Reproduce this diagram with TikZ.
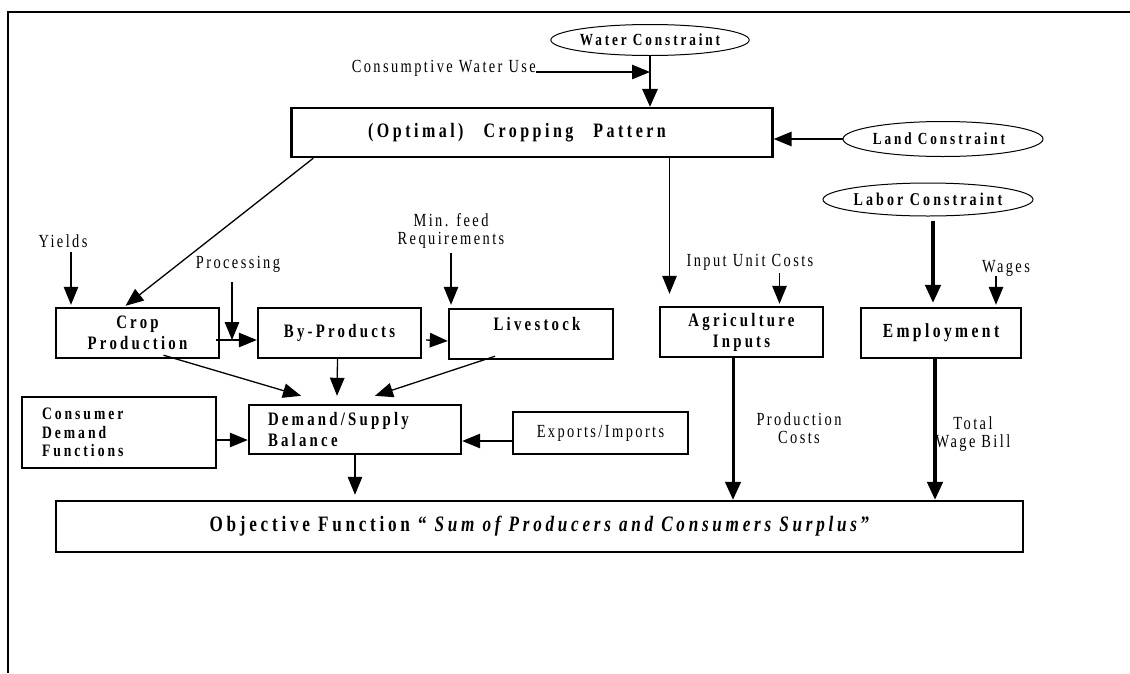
\documentclass[tikz,border=0pt]{standalone}
\usepackage{fontspec}
\setmainfont{Liberation Serif}
\newfontfamily\boxfont[LetterSpace=17,FakeStretch=0.78]{Liberation Serif}
\newfontfamily\notefont[LetterSpace=13,FakeStretch=0.78]{Liberation Serif}
\usetikzlibrary{positioning,arrows.meta,shapes.geometric}

\begin{document}
\begin{tikzpicture}[x=1pt,y=-1pt,
    every node/.style={align=center,inner sep=0pt},
    box/.style={draw,line width=2.4pt,
                font=\boxfont\bfseries\fontsize{19}{21}\selectfont},
    thinbox/.style={draw,line width=1.3pt},
    constraint/.style={draw,ellipse,line width=1pt,
                font=\boxfont\bfseries\fontsize{17}{19}\selectfont},
    note/.style={font=\notefont\fontsize{18.5}{18}\selectfont},
    arr/.style={-{Triangle[length=18pt,width=14.5pt]},line width=1.3pt},
    heavy/.style={-{Triangle[length=18pt,width=15.5pt]},line width=3.4pt}]
  \useasboundingbox (0,0) rectangle (1130,673);
  \draw[line width=2.5pt] (1130,12) -- (8,12) -- (8,673);

  % constraints and the cropping pattern
  \node[constraint,minimum width=192,minimum height=31] (water) at (650,40) {Water Constraint};
  \node[note,anchor=base east] (consumptive) at (536,72) {Consumptive Water Use};
  \node[box,minimum width=481,minimum height=49,font=\boxfont\bfseries\fontsize{20.5}{22}\selectfont]
        (pattern) at (532,132.5) {(Optimal)\hspace{20pt}Cropping\hspace{20pt}Pattern\hspace*{30pt}};
  \node[constraint,minimum width=200,minimum height=35] (land) at (943,139) {Land Constraint\hspace*{8pt}};
  \node[constraint,minimum width=210,minimum height=33,font=\boxfont\bfseries\fontsize{18}{19}\selectfont]
        (labor) at (928,199.5) {Labor Constraint};

  % side inputs
  \node[note] (yields) at (63,241) {Yields};
  \node[note] (processing) at (238,264) {Processing};
  \node[note] (minfeed) at (451,231) {Min. feed\\Requirements};
  \node[note] (inputcosts) at (750,262) {Input Unit Costs};
  \node[note] (wages) at (1006,268) {Wages};

  % activity boxes
  \node[box,minimum width=163,minimum height=50] (cropprod) at (137.5,333) {Crop\\Production};
  \node[box,minimum width=163,minimum height=50] (byprod) at (339.5,333) {By-Products};
  \node[box,minimum width=164,minimum height=50] (livestock) at (531,334) {\hspace*{12pt}Livestock\\\mbox{}};
  \node[box,minimum width=163,minimum height=50] (agri) at (741.5,332) {Agriculture\\Inputs};
  \node[box,minimum width=160,minimum height=50,font=\boxfont\bfseries\fontsize{20}{21}\selectfont]
        (employ) at (941,333) {Employment};

  \node[thinbox,align=left,text width=154,minimum width=194,minimum height=71,
        font=\boxfont\bfseries\fontsize{17.5}{18.5}\selectfont]
        (consumer) at (119,432.5) {Consumer\\Demand\\Functions};
  \node[box,align=left,text width=174,minimum width=212,minimum height=49]
        (demand) at (355,429.5) {Demand/Supply\\Balance};
  \node[thinbox,note,minimum width=175,minimum height=42] (exports) at (600.5,433) {Exports/Imports};
  \node[note] (prodcosts) at (799,428) {Production\\[-0.5pt]Costs};
  \node[note] (wagebill) at (973,434) {Total\\Wage Bill};

  \node[box,minimum width=967,minimum height=51,font=\boxfont\bfseries\fontsize{22}{24}\selectfont]
        (objective) at (539.5,526.5) {Objective Function \textquotedblleft\ \textit{Sum of Producers and Consumers Surplus}\textquotedblright};

  % helper points on box edges
  \coordinate (yieldsIn) at ([xshift=-66.5pt]cropprod.north);
  \coordinate (agriIn) at ([xshift=-72pt]agri.north);
  \coordinate (costIn) at ([xshift=38pt]agri.north);
  \coordinate (laborIn) at ([xshift=-8pt]employ.north);
  \coordinate (wageIn) at ([xshift=55pt]employ.north);
  \coordinate (procIn) at (232,340);
  \coordinate (consOut) at ([yshift=-7.5pt]consumer.east);
  \coordinate (expOut) at ([yshift=-8pt]exports.west);
  \coordinate (agriOut) at ([xshift=-8.5pt]agri.south);
  \coordinate (employOut) at ([xshift=-6pt]employ.south);

  % connectors
  \draw[heavy,line width=2pt] (water.south) -- (water.south |- pattern.north);
  \draw[arr] (consumptive.base east) -- (consumptive.base east -| water.south);
  \draw[arr,line width=1.5pt] (land.west) -- (land.west -| pattern.east);
  \draw[arr] ([xshift=23pt]pattern.south west) -- ([xshift=-12pt,yshift=1pt]cropprod.north);
  \draw[arr,shorten >=12pt] (agriIn |- pattern.south) -- (agriIn);
  \draw[arr,shorten <=4pt,shorten >=2pt] (yieldsIn |- yields.south) -- (yieldsIn);
  \draw[arr,shorten <=10pt] (procIn |- processing.south) -- (procIn);
  \draw[arr,shorten <=4pt,shorten >=3pt] (minfeed.south) -- (minfeed.south |- livestock.north);
  \draw[arr,shorten <=3pt,shorten >=2pt] (costIn |- inputcosts.south) -- (costIn);
  \draw[arr,shorten >=2pt] (wageIn |- wages.south) -- (wageIn);
  \draw[heavy,shorten <=4pt,shorten >=4pt] (laborIn |- labor.south) -- (laborIn);
  \draw[arr] ([xshift=-4pt,yshift=-7pt]cropprod.east) -- ([yshift=-7pt]byprod.west);
  \draw[arr] ([xshift=4pt,yshift=-7pt]byprod.east) -- ([yshift=-7pt]livestock.west);
  \draw[arr] ([xshift=26pt,yshift=4pt]cropprod.south) -- ([xshift=-54pt,yshift=8pt]demand.north);
  \draw[arr] ([xshift=-2pt]byprod.south) -- ([xshift=-18pt,yshift=8pt]demand.north);
  \draw[arr] ([xshift=-36pt,yshift=4pt]livestock.south) -- ([xshift=20pt,yshift=8pt]demand.north);
  \draw[arr] (consOut) -- (consOut -| demand.west);
  \draw[arr] (expOut) -- (expOut -| demand.east);
  \draw[arr,shorten >=5pt] (demand.south) -- (demand.south |- objective.north);
  \draw[heavy,line width=3pt] (agriOut) -- (agriOut |- objective.north);
  \draw[heavy] (employOut) -- (employOut |- objective.north);
\end{tikzpicture}
\end{document}
